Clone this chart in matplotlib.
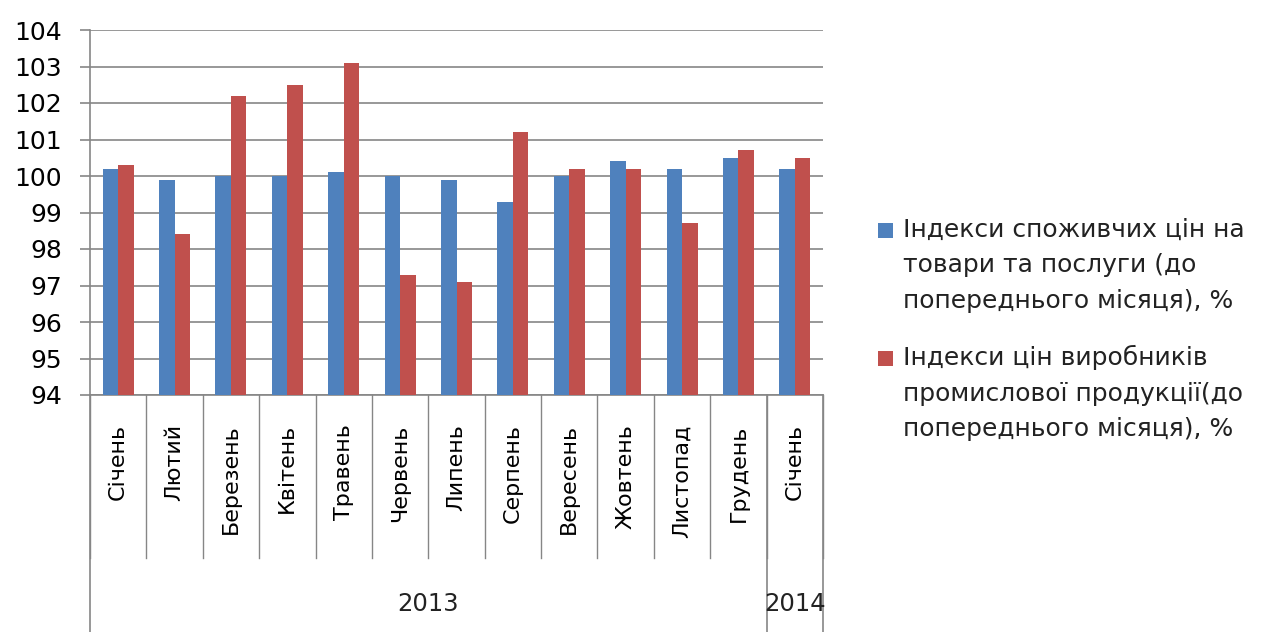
import matplotlib
matplotlib.use("Agg")
from matplotlib import pyplot as plt
from matplotlib.patches import Patch, Rectangle
from matplotlib.legend_handler import HandlerPatch

plt.rcParams['font.family'] = ['DejaVu Sans']

months = ["Січень", "Лютий", "Березень", "Квітень", "Травень", "Червень", "Липень",
          "Серпень", "Вересень", "Жовтень", "Листопад", "Грудень", "Січень"]
years = ["2013", "2014"]
year_spans = [12, 1]  # скільки місяців у кожному році

cpi = [100.2, 99.9, 100.0, 100.0, 100.1, 100.0, 99.9, 99.3, 100.0, 100.4, 100.2, 100.5, 100.2]
ppi = [100.3, 98.4, 102.2, 102.5, 103.1, 97.3, 97.1, 101.2, 100.2, 100.2, 98.7, 100.7, 100.5]

label_cpi = "Індекси споживчих цін на\nтовари та послуги (до\nпопереднього місяця), %"
label_ppi = "Індекси цін виробників\nпромислової продукції(до\nпопереднього місяця), %"

blue = "#4F81BD"
red = "#C0504D"
grey = "#868686"
LS = 1.6  # міжрядковий інтервал легенди


class TopSquare(HandlerPatch):
    # квадратик легенди навпроти першого рядка, як в Excel
    def create_artists(self, legend, orig_handle, xdescent, ydescent, width, height, fontsize, trans):
        s = 0.6 * fontsize
        cy = height / 2 - ydescent + LS * 0.892 * fontsize
        p = Rectangle((-xdescent, cy - s / 2), s, s, facecolor=orig_handle.get_facecolor(),
                      edgecolor='none', transform=trans)
        return [p]


W, H = 1267, 632
fig = plt.figure(figsize=(W / 100, H / 100), dpi=100)
left, right, top, bottom = 90, 823, 30, 395
ax = fig.add_axes([left / W, (H - bottom) / H, (right - left) / W, (bottom - top) / H])

x = [i + 0.5 for i in range(len(months))]
bw = 0.275
ax.bar([i - bw / 2 for i in x], [v - 94 for v in cpi], bottom=94, width=bw, color=blue, zorder=3)
ax.bar([i + bw / 2 for i in x], [v - 94 for v in ppi], bottom=94, width=bw, color=red, zorder=3)

ax.set_xlim(0, len(months))
ax.set_ylim(94, 104)
ax.set_yticks(range(94, 105))
ax.yaxis.grid(True, color=grey, linewidth=1.2, zorder=0)
ax.tick_params(axis='y', length=7, width=1.2, color=grey, pad=13, labelsize=18)
for s in ["top", "right"]:
    ax.spines[s].set_visible(False)
for s in ["left", "bottom"]:
    ax.spines[s].set_color(grey)
    ax.spines[s].set_linewidth(1.2)

# підписи місяців
ax.set_xticks(x)
ax.set_xticklabels(months, rotation=90, fontsize=16)
ax.tick_params(axis='x', length=0, pad=21)

# лінії багаторівневої осі
trans = ax.get_xaxis_transform()
unit = bottom - top
month_bot = -(558 - bottom) / unit
year_bot = -(H - bottom) / unit
for b in range(len(months) + 1):
    ax.plot([b, b], [0, month_bot], transform=trans, color=grey, lw=1, clip_on=False)
pos = 0
ax.plot([0, 0], [0, year_bot], transform=trans, color=grey, lw=1.2, clip_on=False)
for yr, n in zip(years, year_spans):
    ax.plot([pos + n, pos + n], [0, year_bot], transform=trans, color=grey, lw=1.2, clip_on=False)
    ax.text(pos + n / 2, -(604 - bottom) / unit, yr, transform=trans, ha='center', va='center',
            fontsize=17.5, color="#222222")
    pos += n

handles = [Patch(color=blue), Patch(color=red)]
leg = fig.legend(handles, [label_cpi, label_ppi], loc='upper left',
                 bbox_to_anchor=(878 / W, 1 - 218 / H), frameon=False, fontsize=18,
                 handlelength=0.6, handleheight=0.7, handletextpad=0.4, labelspacing=1.3,
                 borderpad=0, borderaxespad=0,
                 handler_map={Patch: TopSquare()})
for t in leg.get_texts():
    t.set_linespacing(LS)
    t.set_color("#222222")

plt.savefig("out.png", dpi=100)
